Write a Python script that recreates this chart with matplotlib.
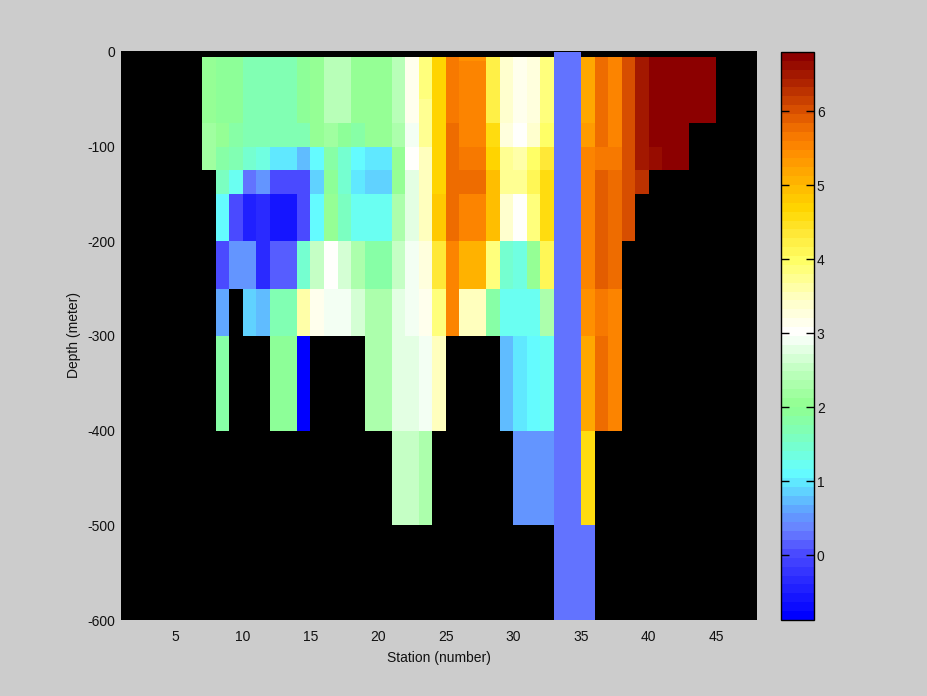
import matplotlib
matplotlib.use("Agg")
import matplotlib.pyplot as plt
import numpy as np
from matplotlib.colors import LinearSegmentedColormap

n = np.nan

# stations 7..44, one list per depth layer
stations = list(range(7, 45))
depth_edges = [0, -5, -10, -50, -75, -100, -125, -150, -200, -250, -300, -400, -500, -600]

layer_0_5 = [n]*26 + [0.3, 0.3] + [n]*10
layer_5_10 = [2.05, 1.9, 1.9, 1.75, 1.75, 1.75, 1.75, 1.9, 2.1, 2.4, 2.4, 2.1, 2.05, 2.05, 2.45, 3.1, 3.85, 4.65, 5.65, 5.4, 5.4, 4.2, 3.4, 3.1, 3.3, 3.85, 0.3, 0.3, 5.2, 5.75, 5.6, 6.05, 6.45, 6.75, 6.75, 6.75, 6.75, 6.75]
layer_10_50 = [2.05, 1.9, 1.9, 1.75, 1.75, 1.75, 1.75, 1.9, 2.1, 2.4, 2.4, 2.1, 2.05, 2.05, 2.45, 3.1, 3.85, 4.65, 5.65, 5.5, 5.5, 4.2, 3.4, 3.1, 3.3, 3.85, 0.3, 0.3, 5.2, 5.75, 5.6, 6.05, 6.45, 6.75, 6.75, 6.75, 6.75, 6.75]
layer_50_75 = [2.05, 1.9, 1.9, 1.75, 1.75, 1.75, 1.75, 1.9, 2.1, 2.4, 2.4, 2.1, 2.05, 2.05, 2.45, 3.1, 3.7, 4.65, 5.65, 5.5, 5.5, 4.2, 3.4, 3.1, 3.3, 3.85, 0.3, 0.3, 5.2, 5.75, 5.6, 6.05, 6.45, 6.75, 6.75, 6.75, 6.75, 6.75]
layer_75_100 = [2.15, 2.05, 1.85, 1.7, 1.7, 1.7, 1.7, 1.7, 2.05, 2.2, 2.0, 1.85, 2.05, 2.05, 2.3, 2.95, 3.7, 4.65, 5.75, 5.5, 5.5, 4.55, 3.3, 3.0, 3.35, 3.95, 0.3, 0.3, 5.35, 5.75, 5.6, 6.05, 6.45, 6.75, 6.75, 6.75, n, n]
layer_100_125 = [2.15, 1.85, 1.65, 1.45, 1.35, 1.0, 1.0, 0.7, 1.05, 1.8, 1.45, 1.05, 0.95, 0.95, 2.05, 3.0, 3.55, 4.75, 5.75, 5.65, 5.65, 4.75, 3.8, 3.65, 3.95, 4.4, 0.3, 0.3, 5.5, 5.7, 5.7, 6.05, 6.45, 6.6, 6.75, 6.75, n, n]
layer_125_150 = [n, 1.6, 1.2, 0.25, 0.55, 0.0, 0.0, 0.0, 0.9, 1.95, 1.5, 1.0, 0.9, 0.9, 2.05, 2.75, 3.55, 4.75, 5.78, 5.78, 5.78, 5.0, 3.8, 3.7, 4.1, 4.55, 0.3, 0.3, 5.6, 5.9, 5.75, 6.05, 6.3, n, n, n, n, n]
layer_150_200 = [n, 1.05, 0.0, -0.4, -0.3, -0.55, -0.55, 0.0, 1.05, 2.05, 1.55, 1.25, 1.25, 1.25, 2.25, 2.75, 3.5, 4.85, 5.78, 5.6, 5.6, 4.9, 3.4, 3.05, 3.9, 4.6, 0.3, 0.3, 5.6, 5.9, 5.75, 6.05, n, n, n, n, n, n]
layer_200_250 = [n, 0.0, 0.45, 0.45, -0.35, 0.15, 0.15, 1.45, 2.5, 3.0, 2.65, 2.3, 1.85, 1.85, 2.5, 2.85, 3.25, 4.4, 5.6, 5.05, 5.05, 3.9, 1.5, 1.4, 2.1, 4.05, 0.3, 0.3, 5.6, 5.85, 5.75, n, n, n, n, n, n, n]
layer_250_300 = [n, 0.6, n, 0.9, 0.8, 1.75, 1.75, 3.6, 3.1, 2.95, 2.95, 2.65, 2.3, 2.3, 2.75, 2.9, 3.1, 3.9, 5.5, 3.5, 3.5, 1.8, 1.2, 1.2, 1.2, 2.3, 0.3, 0.3, 5.4, 5.7, 5.5, n, n, n, n, n, n, n]
layer_300_400 = [n, 1.85, n, n, n, 2.0, 2.0, -0.8, n, n, n, n, 2.3, 2.3, 2.75, 2.75, 2.85, 3.45, n, n, n, n, 0.7, 0.95, 1.05, 1.25, 0.3, 0.3, 5.15, 5.75, 5.5, n, n, n, n, n, n, n]
layer_400_500 = [n]*14 + [2.5, 2.5, 2.3] + [n]*6 + [0.5, 0.5, 0.5, 0.3, 0.3, 4.6] + [n]*9
layer_500_600 = [n]*26 + [0.3, 0.3, 0.3] + [n]*9

layers = [layer_0_5, layer_5_10, layer_10_50, layer_50_75, layer_75_100, layer_100_125,
          layer_125_150, layer_150_200, layer_200_250, layer_250_300, layer_300_400,
          layer_400_500, layer_500_600]

# ─── colour scale ─────────────────────────────────────────────────────────────
vmin, vmax = -0.874, 6.8
anchors = [
    (-0.874, "#0000ff"), (0.0, "#4c4cff"), (0.3, "#6a80ff"), (0.55, "#60a0ff"),
    (1.0, "#60f0ff"), (1.1, "#66ffff"), (1.5, "#78ffc8"), (2.0, "#90ff90"),
    (2.5, "#c0ffc0"), (3.0, "#ffffff"), (3.5, "#ffffc0"), (4.0, "#ffff66"),
    (4.4, "#ffe632"), (4.7, "#ffd700"), (5.0, "#ffbb00"), (5.5, "#ff8c00"),
    (5.75, "#f57500"), (6.05, "#d95000"), (6.45, "#ad2200"), (6.8, "#8c0000"),
]
cmap = LinearSegmentedColormap.from_list(
    "section", [((v - vmin) / (vmax - vmin), c) for v, c in anchors], N=64)
cmap.set_bad("black")

plt.rcParams["font.family"] = ["Liberation Sans", "DejaVu Sans"]
plt.rcParams["font.size"] = 10
plt.rcParams["axes.unicode_minus"] = False

fig = plt.figure(figsize=(9.28, 6.96), dpi=100, facecolor="#cccccc")
ax = fig.add_axes([121 / 928, 1 - 620 / 696, 636 / 928, 569 / 696], facecolor="black")

x_edges = np.arange(stations[0], stations[-1] + 2)
grid = np.ma.masked_invalid(np.array(layers, dtype=float))
mesh = ax.pcolormesh(x_edges, depth_edges, grid, cmap=cmap, vmin=vmin, vmax=vmax)

ax.set_xlim(1, 48)
ax.set_ylim(-600, 1)
ax.set_xticks(range(5, 50, 5))
ax.set_yticks(range(-600, 100, 100))
ax.tick_params(axis="x", length=0, pad=7.5, labelcolor="#111111")
ax.tick_params(axis="y", length=0, pad=4, labelcolor="#111111")
for spine in ax.spines.values():
    spine.set_visible(False)
ax.set_xlabel("Station (number)", labelpad=5, color="#111111")
ax.set_ylabel("Depth (meter)", labelpad=4.5, color="#111111")

cax = fig.add_axes([781 / 928, 1 - 620 / 696, 33 / 928, 568 / 696])
cb = fig.colorbar(mesh, cax=cax)
cb.set_ticks(range(0, 7))
cb.outline.set_linewidth(1)
cax.tick_params(direction="in", left=True, right=True, length=6, width=1, pad=2, labelcolor="#111111")

plt.savefig("out.png", dpi=100, facecolor=fig.get_facecolor())
plt.close(fig)
